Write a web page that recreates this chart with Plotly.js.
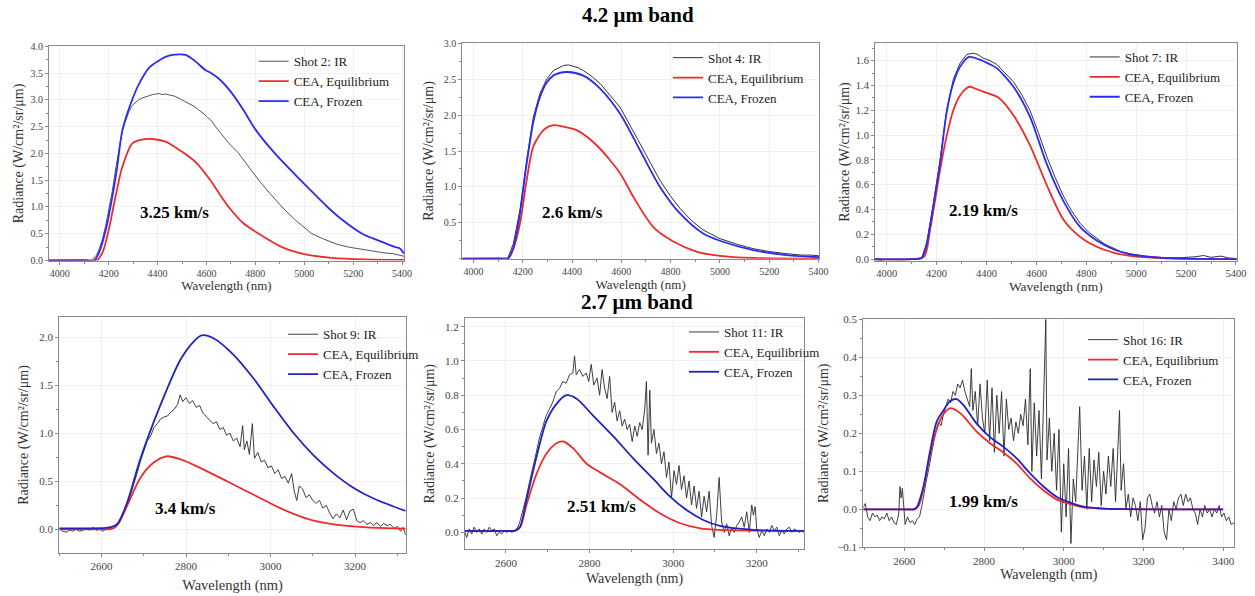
<!DOCTYPE html>
<html>
<head>
<meta charset="utf-8">
<script src="https://cdn.plot.ly/plotly-3.0.1.min.js"></script>
<style>html,body{margin:0;padding:0;background:#fff;}#chart{width:1255px;height:596px;}</style>
</head>
<body>
<div id="chart"></div>
<script>
// ---------- Titles / labels ----------
const bandTitles = ['4.2 μm band', '2.7 μm band'];
const speeds = ['3.25 km/s', '2.6 km/s', '2.19 km/s', '3.4 km/s', '2.51 km/s', '1.99 km/s'];
const shotNames = ['Shot 2: IR', 'Shot 4: IR', 'Shot 7: IR', 'Shot 9: IR', 'Shot 11: IR', 'Shot 16: IR'];
const eqName = 'CEA, Equilibrium';
const fzName = 'CEA, Frozen';
const xTitle = 'Wavelength (nm)';
const yTitle = 'Radiance (W/cm²/sr/μm)';

// ---------- Panel 1 (Shot 2) ----------
const p1IrX = [3956,4000,4100,4130,4140,4150,4160,4175,4190,4200,4215,4228,4242,4256,4270,4285,4297,4310,4325,4340,4351,4365,4380,4392,4405,4420,4433,4450,4470,4487,4510,4530,4550,4569,4590,4605,4623,4637,4660,4690,4732,4770,4814,4860,4909,4960,5000,5031,5080,5130,5181,5220,5260,5300,5330,5360,5385,5408];
const p1IrY = [0,0,0,0.01,0.05,0.1,0.2,0.4,0.7,0.94,1.3,1.69,2.05,2.43,2.62,2.8,2.9,2.96,3.01,3.04,3.06,3.08,3.1,3.11,3.12,3.1,3.11,3.09,3.07,3.03,2.98,2.93,2.88,2.81,2.74,2.67,2.6,2.5,2.37,2.2,2.0,1.76,1.5,1.25,1.0,0.77,0.62,0.5,0.4,0.31,0.25,0.22,0.19,0.16,0.14,0.13,0.11,0.08];
const p1EqX = [3956,4100,4150,4175,4200,4228,4256,4297,4337,4378,4433,4487,4514,4560,4616,4660,4691,4750,4814,4909,5000,5113,5250,5408];
const p1EqY = [0,0,0,0.15,0.57,1.19,1.75,2.19,2.26,2.27,2.22,2.07,1.99,1.82,1.5,1.2,1.0,0.7,0.5,0.25,0.12,0.05,0.02,0.01];
const p1FzX = [3956,4000,4100,4140,4160,4188,4215,4235,4256,4300,4330,4365,4400,4430,4460,4490,4515,4555,4595,4620,4650,4700,4750,4800,4880,4985,5095,5150,5237,5300,5373,5390,5408];
const p1FzY = [0,0,0,0,0.14,0.57,1.19,1.75,2.43,3.05,3.35,3.6,3.72,3.8,3.84,3.85,3.84,3.72,3.56,3.5,3.4,3.15,2.82,2.45,2.0,1.5,1.0,0.78,0.5,0.38,0.25,0.23,0.13];

// ---------- Panel 2 (Shot 4) ----------
const p2IrX = [3955,4000,4100,4140,4162,4189,4216,4243,4270,4297,4324,4345,4365,4385,4405,4425,4446,4480,4514,4555,4595,4635,4676,4716,4757,4798,4838,4885,4932,5000,5070,5135,5200,5270,5330,5370,5402];
const p2IrY = [0,0,0,0.01,0.21,0.68,1.37,1.97,2.3,2.5,2.62,2.66,2.69,2.7,2.68,2.66,2.62,2.54,2.44,2.28,2.11,1.86,1.6,1.34,1.09,0.88,0.7,0.53,0.4,0.28,0.2,0.14,0.1,0.07,0.05,0.05,0.04];
const p2EqX = [3955,4100,4140,4162,4189,4216,4243,4284,4324,4378,4419,4500,4595,4649,4730,4811,4905,5000,5135,5402];
const p2EqY = [0,0,0,0.14,0.49,1.09,1.56,1.79,1.86,1.83,1.79,1.58,1.19,0.86,0.44,0.24,0.1,0.04,0.01,0];
const p2FzX = [3955,4100,4140,4162,4189,4216,4243,4270,4297,4324,4378,4446,4514,4595,4676,4757,4838,4932,5000,5135,5270,5402];
const p2FzY = [0,0,0,0.15,0.63,1.32,1.9,2.25,2.45,2.55,2.6,2.55,2.37,2.02,1.51,1.0,0.63,0.35,0.25,0.12,0.05,0.02];

// ---------- Panel 3 (Shot 7) ----------
const p3IrX = [3953,3980,4000,4100,4140,4160,4187,4214,4240,4267,4294,4321,4347,4365,4387,4414,4441,4475,4508,4540,4574,4608,4641,4675,4708,4741,4775,4808,4842,4875,4908,4940,4975,5040,5109,5180,5240,5270,5300,5340,5370,5403];
const p3IrY = [-0.005,-0.008,0,0,0.01,0.13,0.45,0.8,1.2,1.45,1.58,1.65,1.66,1.65,1.62,1.6,1.57,1.5,1.43,1.33,1.2,1.02,0.83,0.66,0.51,0.39,0.29,0.22,0.17,0.12,0.09,0.06,0.043,0.025,0.013,0.012,0.02,0.03,0.015,0.025,0.01,0.005];
const p3EqX = [3953,4100,4150,4174,4214,4240,4267,4294,4321,4335,4360,4387,4450,4508,4574,4641,4708,4775,4842,4908,4975,5109,5403];
const p3EqY = [0,0,0.02,0.24,0.72,0.99,1.2,1.32,1.38,1.39,1.37,1.35,1.3,1.16,0.92,0.6,0.32,0.18,0.1,0.054,0.027,0.008,0];
const p3FzX = [3953,4100,4140,4160,4187,4214,4240,4267,4294,4330,4370,4414,4441,4508,4574,4641,4708,4775,4842,4908,4975,5109,5403];
const p3FzY = [0,0,0.01,0.12,0.43,0.78,1.18,1.42,1.55,1.63,1.61,1.57,1.54,1.39,1.15,0.77,0.47,0.26,0.15,0.08,0.04,0.01,0];

// ---------- Panel 4 (Shot 9) ----------
const p4IrX = [2500,2508,2516,2524,2532,2540,2548,2556,2564,2572,2580,2588,2596,2604,2612,2620,2628,2636,2644,2652,2660,2668,2676,2684,2692,2700,2708,2716,2724,2732,2740,2748,2756,2764,2772,2780,2786,2792,2800,2808,2816,2824,2832,2840,2848,2856,2864,2872,2880,2888,2896,2904,2912,2920,2928,2934,2938,2944,2950,2957,2962,2970,2978,2986,2994,3002,3010,3018,3026,3034,3042,3050,3056,3062,3068,3076,3084,3092,3100,3108,3116,3124,3132,3140,3148,3156,3164,3172,3180,3188,3196,3204,3212,3220,3228,3236,3244,3252,3260,3268,3276,3284,3292,3300,3308,3314,3320];
const p4IrY = [0.01,-0.02,-0.03,-0.01,-0.02,0,-0.02,-0.01,0.01,-0.01,0.02,-0.01,0,-0.02,0.01,0,0.01,0.03,0.08,0.16,0.25,0.35,0.46,0.58,0.71,0.82,0.92,0.97,1.06,1.1,1.15,1.17,1.18,1.22,1.25,1.3,1.4,1.33,1.37,1.31,1.34,1.27,1.29,1.21,1.17,1.14,1.1,1.12,1.04,1.06,0.98,1,0.92,0.95,0.86,1.08,0.83,0.92,0.78,1.1,0.74,0.8,0.7,0.72,0.64,0.66,0.58,0.62,0.53,0.55,0.48,0.58,0.4,0.3,0.45,0.42,0.33,0.36,0.3,0.27,0.3,0.22,0.25,0.17,0.11,0.16,0.12,0.2,0.1,0.19,0.21,0.09,0.07,0.09,0.05,0.07,0.04,0.07,0.03,0.06,0.04,0.05,0.01,0.03,-0.02,0.02,-0.06];
const p4EqX = [2500,2560,2615,2628,2640,2660,2691,2722,2754,2786,2833,2897,2960,3023,3086,3150,3229,3320];
const p4EqY = [0,0,0,0.01,0.06,0.24,0.53,0.69,0.76,0.73,0.64,0.5,0.36,0.22,0.11,0.05,0.02,0.007];
const p4FzX = [2500,2560,2610,2624,2638,2660,2691,2722,2754,2786,2817,2837,2865,2912,2960,3007,3055,3102,3150,3197,3244,3320];
const p4FzY = [0.01,0.01,0.015,0.025,0.06,0.27,0.72,1.1,1.45,1.76,1.95,2.02,1.99,1.82,1.57,1.28,1,0.77,0.58,0.43,0.32,0.19];

// ---------- Panel 5 (Shot 11) ----------
const p5IrX = [2502,2506,2512,2518,2524,2530,2536,2542,2548,2554,2560,2566,2572,2578,2584,2590,2596,2602,2608,2614,2620,2626,2632,2640,2648,2656,2664,2672,2680,2688,2696,2704,2712,2720,2728,2736,2744,2752,2760,2764,2768,2776,2784,2792,2798,2804,2810,2818,2824,2830,2836,2842,2848,2854,2860,2866,2872,2878,2884,2890,2896,2902,2908,2914,2920,2926,2932,2936,2940,2944,2948,2954,2960,2966,2972,2978,2984,2990,2996,3002,3008,3014,3020,3026,3032,3038,3044,3050,3056,3062,3068,3074,3080,3086,3092,3098,3104,3110,3116,3122,3128,3134,3140,3146,3152,3158,3164,3170,3176,3182,3188,3192,3196,3200,3206,3212,3218,3224,3230,3236,3242,3248,3254,3260,3266,3272,3278,3284,3290,3296,3302,3308,3313];
const p5IrY = [0,-0.03,0.02,-0.01,0.03,0,0.02,-0.01,0.02,0,0.03,0.01,0.02,-0.02,0,-0.01,0.01,0,0.01,0,0.01,0.02,0.05,0.12,0.2,0.29,0.37,0.46,0.55,0.62,0.68,0.72,0.76,0.82,0.84,0.88,0.87,0.92,0.93,1.03,0.92,0.95,0.91,0.93,0.88,0.98,0.86,0.9,0.8,0.95,0.84,0.78,0.91,0.7,0.76,0.65,0.71,0.62,0.66,0.6,0.63,0.53,0.62,0.56,0.64,0.6,0.72,0.88,0.45,0.83,0.52,0.6,0.46,0.52,0.4,0.47,0.32,0.41,0.2,0.36,0.28,0.39,0.25,0.33,0.2,0.3,0.16,0.27,0.14,0.24,0.09,0.21,0.12,0.24,0.04,-0.03,0.1,0.32,0.06,0,0.05,-0.02,0.03,0,0.04,0.06,0.09,0.03,0.12,0,0.16,0.1,0.15,0.02,-0.03,0.01,-0.02,0.02,0,0.04,0.01,0.03,-0.02,0.01,-0.01,0.02,0.03,0,0.02,0.01,0,0.01,0];
const p5EqX = [2502,2600,2622,2634,2649,2673,2697,2721,2737,2761,2793,2825,2873,2921,2969,3017,3065,3112,3200,3313];
const p5EqY = [0.008,0.008,0.01,0.03,0.16,0.34,0.46,0.52,0.53,0.49,0.4,0.35,0.28,0.19,0.11,0.053,0.023,0.014,0.01,0.008];
const p5FzX = [2502,2600,2622,2634,2649,2673,2697,2721,2745,2769,2809,2857,2905,2953,2992,3032,3072,3112,3192,3313];
const p5FzY = [0.008,0.008,0.01,0.033,0.19,0.44,0.65,0.75,0.8,0.78,0.68,0.56,0.43,0.31,0.21,0.13,0.072,0.037,0.014,0.008];

// ---------- Panel 6 (Shot 16) ----------
const p6IrX = [2497,2502,2508,2514,2520,2526,2532,2538,2544,2550,2556,2562,2568,2574,2580,2586,2589,2592,2595,2598,2602,2608,2614,2620,2626,2632,2638,2644,2650,2656,2662,2668,2674,2680,2686,2692,2698,2704,2710,2716,2722,2728,2734,2740,2746,2752,2758,2764,2768,2772,2778,2784,2790,2796,2802,2808,2814,2820,2826,2832,2838,2844,2850,2856,2862,2868,2874,2880,2886,2892,2898,2904,2910,2916,2920,2926,2932,2938,2944,2950,2955,2958,2964,2970,2976,2982,2988,2994,3000,3006,3012,3018,3024,3030,3036,3040,3046,3052,3058,3064,3070,3076,3082,3088,3094,3100,3106,3112,3118,3124,3130,3136,3140,3144,3150,3156,3162,3168,3174,3180,3186,3192,3198,3204,3210,3216,3222,3228,3234,3240,3246,3252,3258,3264,3270,3276,3282,3288,3294,3300,3306,3312,3318,3324,3330,3336,3342,3348,3354,3360,3366,3372,3378,3384,3390,3396,3402,3408,3414,3420,3428];
const p6IrY = [0.005,0.015,-0.02,-0.03,-0.01,-0.02,-0.015,-0.03,-0.02,-0.025,-0.01,-0.03,-0.02,-0.035,-0.04,-0.01,0.06,0.03,0.055,0,-0.04,-0.02,-0.035,-0.03,-0.04,-0.025,-0.02,0.01,0.05,0.08,0.11,0.15,0.18,0.21,0.23,0.22,0.25,0.27,0.29,0.28,0.31,0.3,0.33,0.32,0.34,0.31,0.29,0.27,0.37,0.26,0.31,0.22,0.33,0.24,0.2,0.34,0.18,0.32,0.15,0.3,0.2,0.31,0.14,0.29,0.21,0.24,0.18,0.23,0.2,0.25,0.22,0.29,0.17,0.37,0.1,0.28,0.14,0.26,0.08,0.34,0.5,0.13,0.24,0.1,0.2,0.05,0.21,-0.06,0.12,-0.02,0.16,-0.09,0.08,0.02,0.18,0.27,0.05,0.14,0,0.16,0.02,0.13,0.06,0.15,0.01,0.1,0.04,0.14,0.06,0.16,0.02,0.15,0.26,0.05,0.12,0,0.04,-0.02,0.03,0.01,-0.03,0.02,-0.08,-0.05,0.03,0.04,0.01,-0.01,0.02,-0.02,0.01,-0.06,-0.08,0,-0.03,0.02,0,0.03,0.04,0.01,0.04,0.02,0.03,0,-0.01,-0.04,0,-0.02,0.01,-0.01,0,-0.02,0,-0.01,0.01,-0.02,-0.01,-0.03,-0.02,-0.04,-0.035];
const p6EqX = [2497,2600,2626,2636,2648,2664,2681,2698,2715,2731,2748,2781,2815,2848,2882,2915,2949,2982,3015,3049,3099,3400];
const p6EqY = [0,0,0,0.01,0.055,0.14,0.21,0.25,0.266,0.26,0.245,0.205,0.174,0.15,0.12,0.082,0.05,0.026,0.014,0.005,0.002,0];
const p6FzX = [2497,2600,2622,2631,2648,2664,2681,2698,2715,2731,2748,2781,2815,2848,2882,2915,2949,2982,3015,3049,3099,3400];
const p6FzY = [0,0,0,0.005,0.06,0.15,0.23,0.26,0.285,0.29,0.275,0.226,0.19,0.165,0.134,0.095,0.06,0.033,0.018,0.007,0.002,0];

// ---------- Build ----------
const W = 1255, H = 596;
const serif = 'Liberation Serif';
const topBlue = '#2b2bf5', botBlue = '#2222c4', red = '#ee2b2b';

const panels = [
  {ir:[p1IrX,p1IrY], eq:[p1EqX,p1EqY], fz:[p1FzX,p1FzY], blue:topBlue, irW:1.0, tf:10, xtf:13, xso:2, yso:3,
   px:[49,404], py:[46.4,260.5], xr:[3956,5408], yr:[0,4.0], ydt:0.5, yv:null, xdt:200, x0:4000, irc:'#555'},
  {ir:[p2IrX,p2IrY], eq:[p2EqX,p2EqY], fz:[p2FzX,p2FzY], blue:topBlue, irW:1.0, tf:10, xtf:13, xso:1, yso:6,
   px:[462.3,819], py:[43.3,258.7], xr:[3955,5402], yr:[0,3.0], ydt:0.5, yv:[0.5,1,1.5,2,2.5,3], xdt:200, x0:4000, irc:'#333'},
  {ir:[p3IrX,p3IrY], eq:[p3EqX,p3EqY], fz:[p3FzX,p3FzY], blue:topBlue, irW:1.0, tf:10.5, xtf:13.5, xso:2, yso:2,
   px:[875,1236.7], py:[43.3,260.7], xr:[3953,5403], yr:[-0.012,1.74], ydt:0.2, yv:null, xdt:200, x0:4000, irc:'#333'},
  {ir:[p4IrX,p4IrY], eq:[p4EqX,p4EqY], fz:[p4FzX,p4FzY], blue:botBlue, irW:0.9, tf:11, xtf:14.5, xso:8, yso:7,
   px:[59.3,405.7], py:[317.3,552.7], xr:[2500,3320], yr:[-0.244,2.208], ydt:0.5, yv:null, xdt:200, x0:2600, irc:'#2a2a2a'},
  {ir:[p5IrX,p5IrY], eq:[p5EqX,p5EqY], fz:[p5FzX,p5FzY], blue:botBlue, irW:0.9, tf:11, xtf:14, xso:5, yso:7,
   px:[465,804], py:[318.3,549.3], xr:[2502,3313], yr:[-0.099,1.249], ydt:0.2, yv:null, xdt:200, x0:2600, irc:'#2a2a2a'},
  {ir:[p6IrX,p6IrY], eq:[p6EqX,p6EqY], fz:[p6FzX,p6FzY], blue:botBlue, irW:0.9, tf:11, xtf:14, xso:3, yso:5,
   px:[863.3,1234.3], py:[319.3,547.3], xr:[2497,3428], yr:[-0.1,0.5], ydt:0.1, yv:null, xdt:200, x0:2600, irc:'#2a2a2a'}
];
const legendPos = [[295.7,64.3],[710,60.7],[1126.7,60],[325,337.3],[726,335],[1125,342.7]];
const speedPos = [[174,212.7],[572,212.7],[983,210],[185.8,508.3],[601.3,506.7],[984,501]];
const bandPos = [[638,15],[636.5,302]];

const data = [];
const layout = {
  width: W, height: H, margin:{l:0,r:0,t:0,b:0},
  paper_bgcolor:'#ffffff', plot_bgcolor:'#ffffff',
  font:{family:serif, color:'#333'},
  annotations:[], showlegend:true
};

panels.forEach((p, i) => {
  const n = i + 1;
  const xa = 'x' + (n === 1 ? '' : n), ya = 'y' + (n === 1 ? '' : n);
  const lg = 'legend' + (n === 1 ? '' : n);
  data.push({x:p.ir[0], y:p.ir[1], xaxis:xa, yaxis:ya, legend:lg, name:shotNames[i], type:'scatter', mode:'lines',
             line:{color:p.irc, width:p.irW}});
  data.push({x:p.eq[0], y:p.eq[1], xaxis:xa, yaxis:ya, legend:lg, name:eqName, type:'scatter', mode:'lines',
             line:{color:red, width:1.8, shape:'spline', smoothing:0.8}});
  data.push({x:p.fz[0], y:p.fz[1], xaxis:xa, yaxis:ya, legend:lg, name:fzName, type:'scatter', mode:'lines',
             line:{color:p.blue, width:1.8, shape:'spline', smoothing:0.8}});

  const axBase = {showline:true, mirror:true, linecolor:'#8a8a8a', linewidth:1, ticks:'outside', ticklen:3,
    tickcolor:'#8a8a8a', tickfont:{family:serif, size:p.tf, color:'#444'}, showgrid:true, gridcolor:'#f1f1f1',
    zeroline:false, automargin:false};
  layout['xaxis' + (n === 1 ? '' : n)] = Object.assign({}, axBase, {
    domain:[p.px[0]/W, p.px[1]/W], range:p.xr, anchor:ya, tick0:p.x0, dtick:p.xdt, tickformat:'d',
    minor:{ticks:'outside', ticklen:2, tickcolor:'#8a8a8a', dtick:p.xdt/2, showgrid:false},
    title:{text:xTitle, font:{family:serif, size:p.xtf, color:'#333'}, standoff:p.xso}
  });
  const yax = Object.assign({}, axBase, {
    domain:[1 - p.py[1]/H, 1 - p.py[0]/H], range:p.yr, anchor:xa, tickformat:'.1f',
    minor:{ticks:'outside', ticklen:2, tickcolor:'#8a8a8a', dtick:p.ydt/2, showgrid:false},
    title:{text:yTitle, font:{family:serif, size:14, color:'#333'}, standoff:p.yso}
  });
  if (p.yv) { yax.tickmode = 'array'; yax.tickvals = p.yv; yax.minor.tickmode = 'linear'; yax.minor.tick0 = 0; }
  else { yax.tick0 = 0; yax.dtick = p.ydt; }
  layout['yaxis' + (n === 1 ? '' : n)] = yax;

  layout[lg] = {x:(legendPos[i][0] - 42)/W, y:1 - (legendPos[i][1] - 18)/H, xanchor:'left', yanchor:'top',
    bgcolor:'rgba(0,0,0,0)', borderwidth:0, font:{family:serif, size:13, color:'#222'}, tracegroupgap:0};

  layout.annotations.push({text:'<b>' + speeds[i] + '</b>', xref:'paper', yref:'paper',
    x:speedPos[i][0]/W, y:1 - speedPos[i][1]/H, xanchor:'center', yanchor:'middle', showarrow:false,
    font:{family:serif, size:17, color:'#000'}});
});
bandTitles.forEach((t, k) => {
  layout.annotations.push({text:'<b>' + t + '</b>', xref:'paper', yref:'paper',
    x:bandPos[k][0]/W, y:1 - bandPos[k][1]/H, xanchor:'center', yanchor:'middle', showarrow:false,
    font:{family:serif, size:21, color:'#000'}});
});

Plotly.newPlot('chart', data, layout, {staticPlot:true, displayModeBar:false});
</script>
</body>
</html>
